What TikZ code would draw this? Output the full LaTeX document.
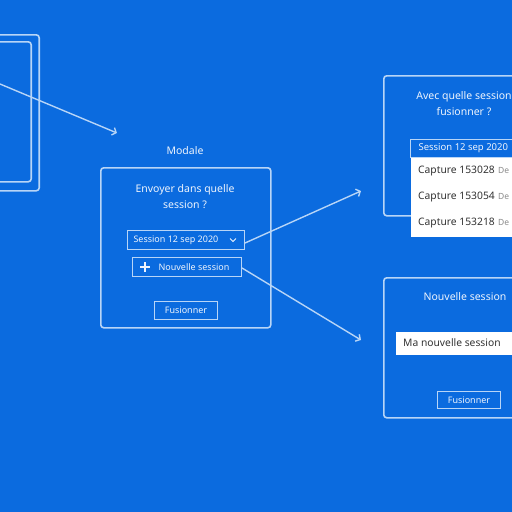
\documentclass[tikz,border=0pt]{standalone}
\usepackage{fontspec}
\setmainfont{Noto Sans}
\usetikzlibrary{arrows.meta,positioning}
\definecolor{bgblue}{HTML}{0B6BDF}
\definecolor{wire}{HTML}{B8D5F7}
\definecolor{ink}{HTML}{EEF4FD}
\definecolor{hint}{HTML}{8A8A8A}
\definecolor{dark}{HTML}{333333}

\begin{document}
\begin{tikzpicture}[x=1pt, y=-1pt,
    frame/.style={draw=wire, line width=1.6pt, rounded corners=3pt, inner sep=0pt, anchor=north west},
    field/.style={draw=wire, line width=1pt, inner sep=0pt, anchor=north west},
    label/.style={text=ink, font=\fontsize{10.5}{16}\selectfont, align=center},
    small/.style={text=ink, font=\fontsize{9}{11}\selectfont},
    item/.style={text=dark, font=\fontsize{10.3}{12}\selectfont, anchor=west, inner sep=0pt},
    link/.style={draw=wire, line width=1.4pt, -{Straight Barb[length=3.5pt,width=8pt]}}]

    % background and frame
    \fill[bgblue] (0,0) rectangle (512,512);
    \clip (0,0) rectangle (512,512);

    % left screen
    \node[frame, anchor=north east, minimum width=70, minimum height=156] (screen) at (40,34) {};
    \node[frame, anchor=north east, minimum width=62, minimum height=140] (inner) at (32,41) {};
    \coordinate (start) at (0,84);
    \coordinate (hint) at (117,133);

    % modal
    \node[label] (modaltitle) at (185,151) {Modale};
    \node[frame, minimum width=170, minimum height=160] (modal) at (100,167) {};
    \node[label] (ask) at (185,196.5) {Envoyer dans quelle\\session ?};
    \node[field, minimum width=117, minimum height=19] (pick) at (127,230) {};
    \node[small, anchor=west] (picktext) at ([xshift=3pt]pick.west) {Session 12 sep 2020};
    \draw[ink, line width=1pt] ([xshift=-15pt, yshift=1.5pt]pick.east) -- ++(3,3) -- ++(3,-3);
    \node[field, minimum width=109, minimum height=19] (new) at (132,257) {};
    \node[small, anchor=west] (newtext) at ([xshift=23pt]new.west) {Nouvelle session};
    \draw[ink, line width=1.3pt] ([xshift=8pt]new.west) -- ++(10,0)
        ([xshift=13pt, yshift=5pt]new.west) -- ++(0,10);
    \node[field, minimum width=63, minimum height=18] (merge) at (154,301) {};
    \node[small] (mergetext) at (merge.center) {Fusionner};

    % top right: existing session
    \node[frame, minimum width=165, minimum height=140] (pickbox) at (383,75) {};
    \node[label] (pickask) at (464,104) {Avec quelle session\\fusionner ?};
    \node[field, fill=white, draw=none, minimum width=140, minimum height=79] (list) at (410,157) {};
    \node[field, fill=bgblue, minimum width=140, minimum height=18] (head) at (410,139) {};
    \node[small, anchor=west, font=\fontsize{9.5}{11}\selectfont] (headtext) at ([xshift=5pt]head.west) {Session 12 sep 2020};
    \foreach \y/\n in {171/153028, 197/153054, 223/153218} {
        \node[item] (cap\n) at (418,\y) {Capture \n};
        \node[item, text=hint, font=\fontsize{8.5}{10}\selectfont] (date\n) at (498,\y) {De};
    }

    % bottom right: new session
    \node[frame, minimum width=165, minimum height=140] (newbox) at (383,277) {};
    \node[label] (newask) at (465,297) {Nouvelle session};
    \node[field, fill=white, draw=none, minimum width=150, minimum height=23] (input) at (395,331) {};
    \node[item] (inputtext) at ([xshift=8pt]input.west) {Ma nouvelle session};
    \node[field, minimum width=63, minimum height=17] (merge2) at (437,391) {};
    \node[small] (merge2text) at (merge2.center) {Fusionner};

    % arrows
    \coordinate (toPick) at (361,191);
    \coordinate (toNew) at (361,340);
    \draw[link] (start) -- (hint);
    \draw[link] ([yshift=-3pt]pick.east) -- (toPick);
    \draw[link] ([yshift=-1pt]new.east) -- (toNew);
\end{tikzpicture}
\end{document}
